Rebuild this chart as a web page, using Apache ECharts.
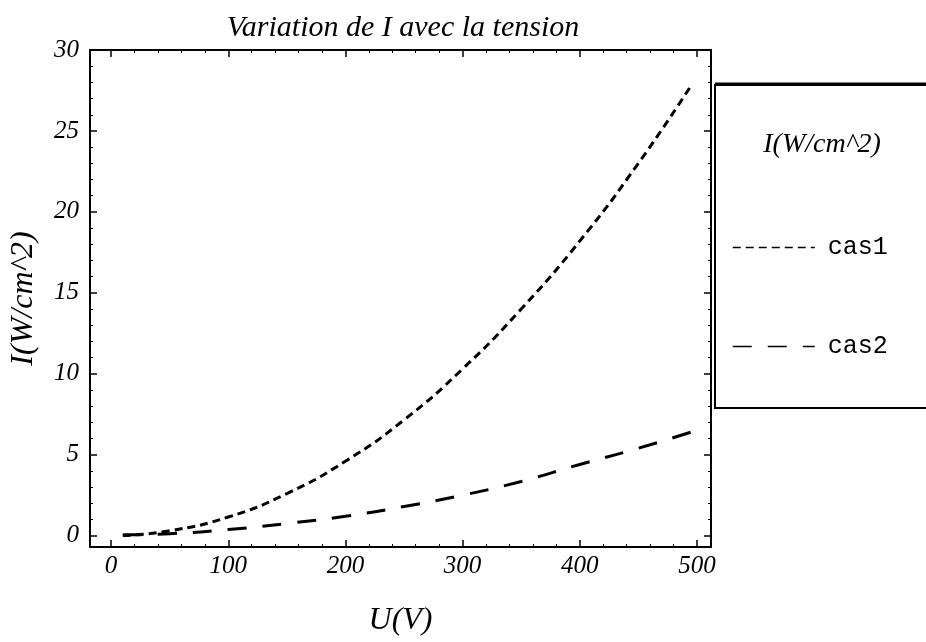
<!DOCTYPE html>
<html lang="fr">

<head>
	<meta charset="UTF-8" />
	<script src="https://cdn.jsdelivr.net/npm/echarts@6/dist/echarts.min.js"></script>
	<title>Variation de I avec la tension</title>
	<style>
		html, body { margin: 0; background: #fff; }
		#main { width: 926px; height: 642px; }
	</style>
</head>

<body>
	<div id="main"></div>

	<script type="text/javascript">
		// tension U (V) et intensité I (W/cm^2)
		const tensions = [10, 50, 100, 150, 200, 250, 300, 350, 400, 450, 495];
		const cas1 = [0.01, 0.3, 1.15, 2.6, 4.6, 7.15, 10.3, 14.0, 18.2, 23.0, 27.8];
		const cas2 = [0.05, 0.12, 0.38, 0.75, 1.2, 1.8, 2.5, 3.35, 4.4, 5.4, 6.4];
		const serieNames = ['cas1', 'cas2'];

		const serif = 'Liberation Serif';
		const chart = echarts.init(document.getElementById('main'));

		const frameAxis = (extra) => Object.assign({
			type: 'value',
			axisLine: { show: true, onZero: false, lineStyle: { color: '#000', width: 2 } },
			axisTick: { show: true, inside: true, length: 7, lineStyle: { color: '#000', width: 1.5 } },
			minorTick: { show: true, splitNumber: 5, length: 3, lineStyle: { color: '#000', width: 1 } },
			splitLine: { show: false },
			minorSplitLine: { show: false },
		}, extra);

		const labelStyle = {
			color: '#000',
			fontFamily: serif,
			fontStyle: 'italic',
			fontSize: 25,
		};

		const option = {
			backgroundColor: '#fff',
			animation: false,
			title: [
				{
					text: 'Variation de I avec la tension',
					left: 398,
					top: 8,
					textAlign: 'center',
					textStyle: { color: '#000', fontFamily: serif, fontStyle: 'italic', fontWeight: 'normal', fontSize: 30 },
				},
				{
					text: 'I(W/cm^2)',
					left: 817,
					top: 126,
					textAlign: 'center',
					textStyle: { color: '#000', fontFamily: serif, fontStyle: 'italic', fontWeight: 'normal', fontSize: 28 },
				},
			],
			grid: {
				left: 89,
				right: 215,
				top: 50,
				bottom: 92,
				containLabel: false,
			},
			legend: {
				show: true,
				data: serieNames,
				orient: 'vertical',
				left: 727,
				top: 230,
				itemWidth: 82,
				itemHeight: 14,
				itemGap: 74,
				itemStyle: { opacity: 0, borderWidth: 0 },
				lineStyle: { width: 1.5 },
				textStyle: { color: '#000', fontFamily: 'Liberation Mono', fontSize: 25, padding: [0, 0, 0, 8] },
			},
			xAxis: [
				frameAxis({
					position: 'bottom',
					min: -18,
					max: 512,
					splitNumber: 5,
					name: 'U(V)',
					nameLocation: 'middle',
					nameGap: 58,
					nameTextStyle: { color: '#000', fontFamily: serif, fontStyle: 'italic', fontSize: 32 },
					axisLabel: Object.assign({ margin: 7, formatter: v => (v % 100 === 0 ? String(v) : '') }, labelStyle),
				}),
				frameAxis({
					position: 'top',
					min: -18,
					max: 512,
					splitNumber: 5,
					axisLabel: { show: false },
				}),
			],
			yAxis: [
				frameAxis({
					position: 'left',
					min: -0.7,
					max: 30,
					splitNumber: 6,
					name: 'I(W/cm^2)',
					nameLocation: 'middle',
					nameGap: 50,
					nameTextStyle: { color: '#000', fontFamily: serif, fontStyle: 'italic', fontSize: 32 },
					axisLabel: Object.assign({ margin: 11, formatter: v => (v % 5 === 0 ? String(v) : '') }, labelStyle),
				}),
				frameAxis({
					position: 'right',
					min: -0.7,
					max: 30,
					splitNumber: 6,
					axisLabel: { show: false },
				}),
			],
			series: [
				{
					name: serieNames[0],
					type: 'line',
					xAxisIndex: 0,
					yAxisIndex: 0,
					smooth: true,
					symbol: 'none',
					lineStyle: { color: '#000', width: 3, type: [8, 5] },
					itemStyle: { color: '#000' },
					data: tensions.map((u, i) => [u, cas1[i]]),
				},
				{
					name: serieNames[1],
					type: 'line',
					xAxisIndex: 0,
					yAxisIndex: 0,
					smooth: true,
					symbol: 'none',
					lineStyle: { color: '#000', width: 3, type: [19, 16] },
					itemStyle: { color: '#000' },
					data: tensions.map((u, i) => [u, cas2[i]]),
				},
			],
			// cadre de la légende (ouvert à droite, coupé par le bord)
			graphic: [
				{
					type: 'polyline',
					shape: { points: [[926, 85], [715, 85], [715, 408], [926, 408]] },
					style: { stroke: '#000', lineWidth: 2, fill: null },
				},
				{
					type: 'line',
					shape: { x1: 715, y1: 84, x2: 926, y2: 84 },
					style: { stroke: '#000', lineWidth: 3 },
				},
			],
		};
		chart.setOption(option);
	</script>
</body>

</html>
